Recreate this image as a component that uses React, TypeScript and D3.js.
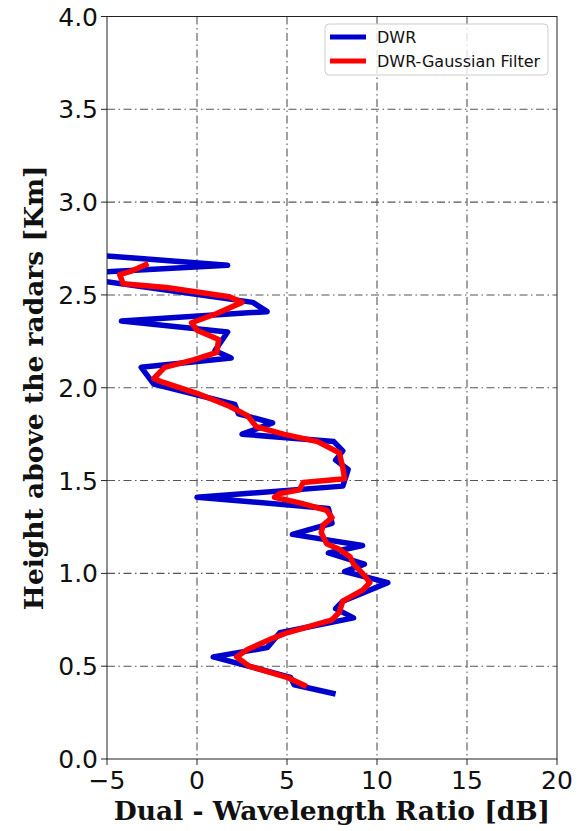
import React from "react";
import * as d3 from "d3";

// DWR raw profile: [dB] vs height [km]
const dwrValues = [7.7, 5.4, 5.2, 0.9, 3.9, 4.6, 8.7, 7.7, 8.1, 10.6, 8.2, 9.3, 7.3, 9.2, 5.3, 7.5, 7.3, 0.0, 8.1, 8.4, 7.7, 8.1, 7.6, 2.5, 4.2, 2.3, 2.1, -2.4, -3.1, 1.9, 1.0, 1.7, -4.2, 3.9, 3.1, -7.8, 1.7, -6.3];
const dwrHeights = [0.35, 0.40, 0.44, 0.55, 0.60, 0.68, 0.76, 0.81, 0.85, 0.95, 1.01, 1.05, 1.11, 1.15, 1.21, 1.27, 1.35, 1.41, 1.47, 1.56, 1.61, 1.66, 1.71, 1.75, 1.81, 1.86, 1.91, 2.02, 2.11, 2.16, 2.20, 2.30, 2.36, 2.41, 2.46, 2.61, 2.66, 2.72];

// Gaussian-filtered DWR
const gaussValues = [6.1, 5.0, 2.9, 2.2, 2.8, 4.2, 5.0, 7.5, 7.9, 8.1, 9.2, 9.6, 9.2, 8.7, 8.5, 7.9, 7.2, 6.9, 7.0, 7.5, 7.2, 5.7, 4.3, 4.6, 5.7, 5.9, 8.2, 8.1, 7.9, 6.7, 4.8, 3.3, 2.8, 1.8, 0.0, -1.9, -2.4, -1.8, -0.2, 1.1, 1.2, 0.0, -0.3, 1.1, 2.5, 1.8, -1.7, -4.1, -4.3, -3.6, -2.7];
const gaussHeights = [0.39, 0.44, 0.50, 0.55, 0.59, 0.65, 0.68, 0.75, 0.79, 0.85, 0.91, 0.95, 1.00, 1.05, 1.09, 1.13, 1.16, 1.22, 1.26, 1.30, 1.34, 1.38, 1.41, 1.43, 1.45, 1.49, 1.51, 1.57, 1.65, 1.71, 1.75, 1.79, 1.85, 1.90, 1.97, 2.03, 2.05, 2.11, 2.15, 2.19, 2.26, 2.31, 2.35, 2.40, 2.46, 2.49, 2.54, 2.56, 2.61, 2.63, 2.67];

const xTicks = [-5, 0, 5, 10, 15, 20];
const yTicks = [0, 0.5, 1.0, 1.5, 2.0, 2.5, 3.0, 3.5, 4.0];
const seriesNames = ["DWR", "DWR-Gaussian Filter"];
const seriesColors = ["#0000cc", "#ff0000"];

const W = 588;
const H = 831;
const left = 107, right = 557, top = 16.5, bottom = 759;

export default function App() {
  const x = d3.scaleLinear().domain([-5, 20]).range([left, right]);
  const y = d3.scaleLinear().domain([0, 4]).range([bottom, top]);
  const line = d3
    .line<[number, number]>()
    .x((d) => x(d[0]))
    .y((d) => y(d[1]));
  const dwr = dwrValues.map((v, i) => [v, dwrHeights[i]] as [number, number]);
  const gauss = gaussValues.map((v, i) => [v, gaussHeights[i]] as [number, number]);
  const fmtX = (v: number) => (v < 0 ? "\u2212" + Math.abs(v) : String(v));
  const gridDash = "8,3.5,1.5,3.5";
  const tickFont = "DejaVu Sans, sans-serif";

  return (
    <svg
      width={W}
      height={H}
      style={{ position: "absolute", left: 0, top: 0, background: "#fff" }}
    >
      <defs>
        <clipPath id="plotclip">
          <rect x={left} y={top} width={right - left} height={bottom - top} />
        </clipPath>
      </defs>
      <rect x={0} y={0} width={W} height={H} fill="#fff" />
      {/* grid */}
      <g stroke="#555" strokeWidth={1.1} strokeDasharray={gridDash} fill="none">
        {xTicks.slice(1, -1).map((t) => (
          <line key={"gx" + t} x1={x(t)} x2={x(t)} y1={top} y2={bottom} />
        ))}
        {yTicks.slice(1, -1).map((t) => (
          <line key={"gy" + t} x1={left} x2={right} y1={y(t)} y2={y(t)} />
        ))}
      </g>
      {/* lines */}
      <g clipPath="url(#plotclip)" fill="none" strokeLinejoin="round" strokeLinecap="butt">
        <path d={line(dwr) || ""} stroke={seriesColors[0]} strokeWidth={5.5} />
        <path d={line(gauss) || ""} stroke={seriesColors[1]} strokeWidth={5.5} />
      </g>
      {/* frame */}
      <rect x={left} y={top} width={right - left} height={bottom - top} fill="none" stroke="#222" strokeWidth={1} />
      {/* ticks */}
      <g fontFamily={tickFont} fontSize={25} fill="#111">
        {xTicks.map((t) => (
          <g key={"xt" + t}>
            <line x1={x(t)} x2={x(t)} y1={bottom} y2={bottom + 6} stroke="#222" />
            <text x={x(t)} y={789} textAnchor="middle">
              {fmtX(t)}
            </text>
          </g>
        ))}
        {yTicks.map((t) => (
          <g key={"yt" + t}>
            <line x1={left - 6} x2={left} y1={y(t)} y2={y(t)} stroke="#222" />
            <text x={left - 9} y={y(t) + 9} textAnchor="end">
              {t.toFixed(1)}
            </text>
          </g>
        ))}
      </g>
      {/* axis labels */}
      <text
        x={(left + right) / 2}
        y={820}
        textAnchor="middle"
        fontFamily="DejaVu Serif, serif"
        fontWeight="bold"
        fontSize={26.5}
        fill="#111"
      >
        Dual - Wavelength Ratio [dB]
      </text>
      <text
        transform={`translate(43, ${(top + bottom) / 2}) rotate(-90)`}
        textAnchor="middle"
        fontFamily="DejaVu Serif, serif"
        fontWeight="bold"
        fontSize={26.5}
        fill="#111"
      >
        Height above the radars [Km]
      </text>
      {/* legend */}
      <g>
        <rect x={325} y={24} width={223} height={51} rx={4} fill="#fff" fillOpacity={0.8} stroke="#ccc" strokeWidth={1} />
        {seriesNames.map((n, i) => (
          <g key={n}>
            <line x1={330} x2={366} y1={37 + i * 24} y2={37 + i * 24} stroke={seriesColors[i]} strokeWidth={5} />
            <text x={377} y={42.5 + i * 24} fontFamily={tickFont} fontSize={16} fill="#111">
              {n}
            </text>
          </g>
        ))}
      </g>
    </svg>
  );
}
